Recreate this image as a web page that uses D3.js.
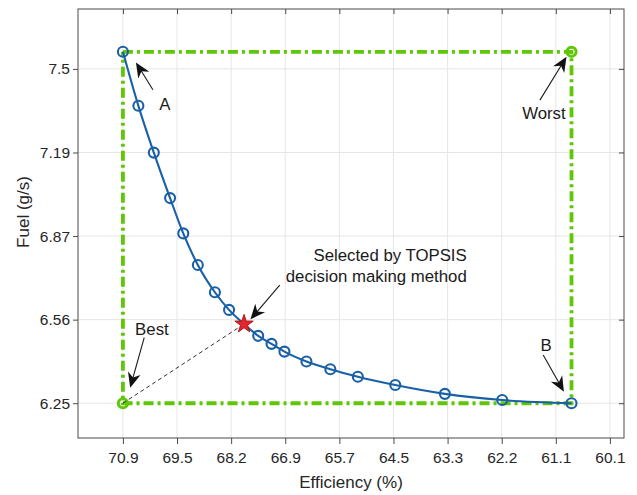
<!DOCTYPE html>
<html>
<head>
<meta charset="utf-8">
<script src="https://cdn.jsdelivr.net/npm/d3@7"></script>
<style>
  body { margin: 0; background: #fff; }
  text { font-family: "Liberation Sans", Arial, sans-serif; }
</style>
</head>
<body>
<div id="chart"></div>
<script>
// Pareto front
const efficiency = [70.9, 70.50, 70.10, 69.68, 69.35, 69.00, 68.59, 68.25, 67.89, 67.55,
                    67.23, 66.92, 66.43, 65.90, 65.29, 64.46, 63.36, 62.19, 60.81];
const fuel = [7.564, 7.362, 7.187, 7.017, 6.885, 6.767, 6.665, 6.599, 6.546, 6.502,
              6.472, 6.443, 6.406, 6.377, 6.349, 6.318, 6.285, 6.262, 6.25];
const selectedIndex = 8;
const bestPoint = [70.9, 6.25];
const worstPoint = [60.81, 7.564];

const xTickValues = [70.9, 69.5, 68.2, 66.9, 65.7, 64.5, 63.3, 62.2, 61.1, 60.1];
const yTickValues = [6.25, 6.5625, 6.875, 7.1875, 7.5];
const yTickLabels = ["6.25", "6.56", "6.87", "7.19", "7.5"];

const WIDTH = 637, HEIGHT = 495;
const margin = { top: 9, right: 13, bottom: 57, left: 78 };
const w = WIDTH - margin.left - margin.right;
const h = HEIGHT - margin.top - margin.bottom;

const BLUE = "#1a60a6";
const GREEN = "#5fc608";
const AXIS = "#4a4a4a";

// x ticks are evenly spaced on screen, labels are not -> piecewise scale
const idx = d3.scaleLinear().domain([-0.83, 9.26]).range([0, w]);
const x = d3.scaleLinear()
    .domain(xTickValues)
    .range(xTickValues.map((d, i) => idx(i)));
const y = d3.scaleLinear().domain([6.12, 7.724]).range([h, 0]);

const svg = d3.select("#chart").append("svg")
    .attr("width", WIDTH)
    .attr("height", HEIGHT);

const g = svg.append("g")
    .attr("transform", `translate(${margin.left},${margin.top})`);

// grid
g.append("g").selectAll("line")
    .data(xTickValues)
    .enter().append("line")
    .attr("x1", d => x(d)).attr("x2", d => x(d))
    .attr("y1", 0).attr("y2", h)
    .attr("stroke", "#e6e6e6");
g.append("g").selectAll("line")
    .data(yTickValues)
    .enter().append("line")
    .attr("y1", d => y(d)).attr("y2", d => y(d))
    .attr("x1", 0).attr("x2", w)
    .attr("stroke", "#e6e6e6");

// axes
function styleAxis(sel) {
    sel.select(".domain").remove();
    sel.selectAll(".tick line").attr("stroke", AXIS);
    sel.selectAll(".tick text")
        .attr("fill", "#262626")
        .style("font-size", "15.5px");
}

g.append("g")
    .attr("transform", `translate(0,${h})`)
    .call(d3.axisBottom(x).tickValues(xTickValues).tickFormat(d3.format(".1f"))
        .tickSize(6).tickPadding(8))
    .call(styleAxis);

g.append("g")
    .call(d3.axisLeft(y).tickValues(yTickValues).tickFormat((d, i) => yTickLabels[i])
        .tickSize(5).tickPadding(3))
    .call(styleAxis);

g.append("g")
    .call(d3.axisTop(x).tickValues(xTickValues).tickFormat("").tickSize(-5))
    .call(styleAxis);

g.append("g")
    .attr("transform", `translate(${w},0)`)
    .call(d3.axisRight(y).tickValues(yTickValues).tickFormat("").tickSize(-5))
    .call(styleAxis);

g.append("rect")
    .attr("width", w).attr("height", h)
    .attr("fill", "none")
    .attr("stroke", AXIS)
    .attr("stroke-width", 1);

// green best/worst box
const boxCorners = [
    [bestPoint[0], worstPoint[1]],
    [worstPoint[0], worstPoint[1]],
    [worstPoint[0], bestPoint[1]],
    [bestPoint[0], bestPoint[1]],
    [bestPoint[0], worstPoint[1]]
];
g.append("path")
    .datum(boxCorners)
    .attr("d", d3.line().x(d => x(d[0])).y(d => y(d[1])))
    .attr("fill", "none")
    .attr("stroke", GREEN)
    .attr("stroke-width", 3.8)
    .attr("stroke-dasharray", "10,4,3,4");

g.selectAll(".ideal")
    .data([bestPoint, worstPoint])
    .enter().append("circle")
    .attr("cx", d => x(d[0]))
    .attr("cy", d => y(d[1]))
    .attr("r", 4.6)
    .attr("fill", "none")
    .attr("stroke", GREEN)
    .attr("stroke-width", 3);

// dashed line best -> selected
g.append("line")
    .attr("x1", x(bestPoint[0])).attr("y1", y(bestPoint[1]))
    .attr("x2", x(efficiency[selectedIndex])).attr("y2", y(fuel[selectedIndex]))
    .attr("stroke", "#333")
    .attr("stroke-width", 1)
    .attr("stroke-dasharray", "4,3");

// pareto curve
const pts = efficiency.map((e, i) => [e, fuel[i]]);
g.append("path")
    .datum(pts)
    .attr("d", d3.line().x(d => x(d[0])).y(d => y(d[1])).curve(d3.curveMonotoneX))
    .attr("fill", "none")
    .attr("stroke", BLUE)
    .attr("stroke-width", 2.1);

g.selectAll(".pt")
    .data(pts.filter((d, i) => i !== selectedIndex))
    .enter().append("circle")
    .attr("cx", d => x(d[0]))
    .attr("cy", d => y(d[1]))
    .attr("r", 5)
    .attr("fill", "none")
    .attr("stroke", BLUE)
    .attr("stroke-width", 2.1);

g.append("path")
    .attr("d", d3.symbol(d3.symbolStar, 105)())
    .attr("transform", `translate(${x(efficiency[selectedIndex])},${y(fuel[selectedIndex])})`)
    .attr("fill", "#e3262b")
    .attr("stroke", "#b0171c")
    .attr("stroke-width", 1);

// annotations: pixel offsets from the point they refer to
const annotations = [
    { at: pts[0], tip: [13, 10.6], tail: [30, 38], lines: ["A"], tx: 42, ty: 58, anchor: "middle" },
    { at: worstPoint, tip: [-5, 5], tail: [-31.6, 48.3], lines: ["Worst"], tx: -27.6, ty: 67, anchor: "middle" },
    { at: bestPoint, tip: [7.3, -15.6], tail: [21.3, -65.6], lines: ["Best"], tx: 29, ty: -68, anchor: "middle" },
    { at: pts[selectedIndex], tip: [6.4, -4.7], tail: [35.7, -39],
      lines: ["Selected by TOPSIS", "decision making method"], tx: 222.7, ty: -63.3, anchor: "end" },
    { at: pts[pts.length - 1], tip: [-7.6, -11.6], tail: [-28.3, -48.3], lines: ["B"], tx: -25.3, ty: -52, anchor: "middle" }
];

const ann = g.append("g");
annotations.forEach(a => {
    const px = x(a.at[0]), py = y(a.at[1]);
    const x1 = px + a.tail[0], y1 = py + a.tail[1];
    const x2 = px + a.tip[0], y2 = py + a.tip[1];
    const rad = Math.atan2(y2 - y1, x2 - x1);
    ann.append("line")
        .attr("x1", x1).attr("y1", y1)
        .attr("x2", x2 - 9 * Math.cos(rad))
        .attr("y2", y2 - 9 * Math.sin(rad))
        .attr("stroke", "#1a1a1a")
        .attr("stroke-width", 1.1);
    ann.append("path")
        .attr("d", "M0,0L-15,-6.5L-10.5,0L-15,6.5Z")
        .attr("transform", `translate(${x2},${y2}) rotate(${rad * 180 / Math.PI})`)
        .attr("fill", "#111");
    const t = ann.append("text")
        .attr("text-anchor", a.anchor)
        .attr("fill", "#1a1a1a")
        .style("font-size", "16.8px");
    a.lines.forEach((l, i) => {
        t.append("tspan")
            .attr("x", px + a.tx)
            .attr("y", py + a.ty + i * 21)
            .text(l);
    });
});

// axis labels
svg.append("text")
    .attr("x", margin.left + w / 2)
    .attr("y", 488)
    .attr("text-anchor", "middle")
    .attr("fill", "#262626")
    .style("font-size", "17px")
    .text("Efficiency (%)");

svg.append("text")
    .attr("transform", "translate(29,212) rotate(-90)")
    .attr("text-anchor", "middle")
    .attr("fill", "#262626")
    .style("font-size", "17px")
    .text("Fuel (g/s)");
</script>
</body>
</html>
